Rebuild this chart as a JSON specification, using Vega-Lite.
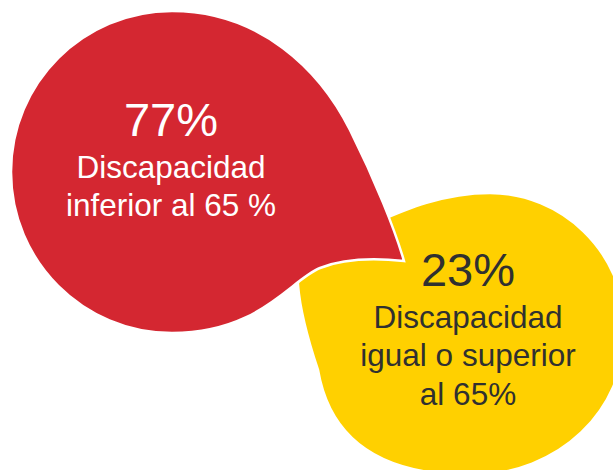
{
  "$schema": "https://vega.github.io/schema/vega-lite/v6.json",
  "usermeta": {"embedOptions": {"actions": false}},
  "width": 613,
  "height": 470,
  "padding": 0,
  "autosize": {"type": "none"},
  "background": "white",
  "config": {"view": {"stroke": null}},
  "data": {
    "values": [
      {"grupo": "inferior", "share": 0.77, "label": "Discapacidad\ninferior al 65 %"},
      {"grupo": "superior", "share": 0.23, "label": "Discapacidad\nigual o superior\nal 65%"}
    ]
  },
  "encoding": {
    "x": {"field": "grupo", "type": "nominal", "axis": null,
      "scale": {"type": "point", "padding": 0, "domain": ["inferior", "superior"], "range": [171, 468]}},
    "y": {"field": "grupo", "type": "nominal", "axis": null,
      "scale": {"type": "point", "padding": 0, "domain": ["inferior", "superior"], "range": [175, 325]}}
  },
  "layer": [
    {
      "mark": {"type": "point", "filled": true, "size": 4, "opacity": 1, "stroke": "white", "strokeWidth": 2.5},
      "encoding": {
        "shape": {"field": "grupo", "type": "nominal", "legend": null,
          "scale": {"domain": ["inferior", "superior"], "range": [
            "M233,86C204,83,174,83,149,93C119,105,89,158,1,158C-88,158,-160,86,-160,-3C-160,-92,-88,-164,1,-164C89,-164,149,-105,179,-45C204,5,224,55,233,86Z",
            "M-98,-100C-68,-113,-28,-132,22,-132C92,-132,157,-75,157,5C157,85,92,150,2,150C-88,150,-138,115,-150,45C-160,15,-168,-15,-170,-40C-172,-60,-128,-85,-98,-100Z"
          ]}},
        "color": {"field": "grupo", "type": "nominal", "legend": null,
          "scale": {"domain": ["inferior", "superior"], "range": ["#D42731", "#FFD000"]}},
        "order": {"field": "share", "sort": "ascending"}
      }
    },
    {
      "mark": {"type": "text", "font": "Liberation Sans", "fontSize": 47, "dy": -39, "align": "center", "baseline": "alphabetic"},
      "encoding": {
        "text": {"field": "share", "type": "quantitative", "format": ".0%"},
        "color": {"condition": {"test": "datum.share > 0.5", "value": "white"}, "value": "#303030"}
      }
    },
    {
      "mark": {"type": "text", "font": "Liberation Sans", "fontSize": 31.5, "dy": 2.5, "align": "center", "baseline": "alphabetic", "lineBreak": "\n", "lineHeight": 38.5},
      "encoding": {
        "text": {"field": "label", "type": "nominal"},
        "color": {"condition": {"test": "datum.share > 0.5", "value": "white"}, "value": "#303030"}
      }
    }
  ]
}
